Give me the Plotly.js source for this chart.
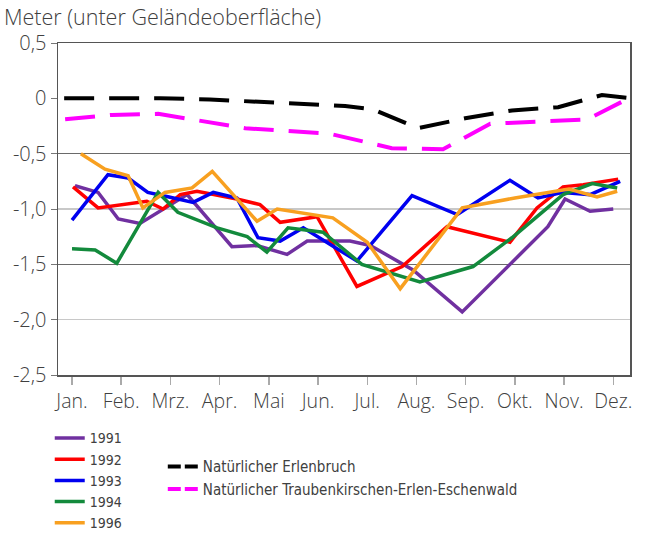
<!DOCTYPE html>
<html><head><meta charset="utf-8">
<script src="https://cdn.plot.ly/plotly-3.0.1.min.js"></script>
<style>html,body{margin:0;padding:0;background:#fff}</style>
</head><body><div id="chart" style="width:646px;height:534px"></div>
<script>
const months = ["Jan.","Feb.","Mrz.","Apr.","Mai","Jun.","Jul.","Aug.","Sep.","Okt.","Nov.","Dez."];
const monthPos = [0,1,2,3,4,5,6,7,8,9,10,11];
const yTickVals = [0.5,0,-0.5,-1,-1.5,-2,-2.5];
const yTickText = ["0,5","0","-0,5","-1,0","-1,5","-2,0","-2,5"];

const x1991 = [0.06,0.53,0.94,1.38,2.34,3.25,3.76,4.37,4.78,5.65,6.06,6.93,7.93,8.76,9.67,10.02,10.53,11.0];
const y1991 = [-0.79,-0.85,-1.09,-1.13,-0.87,-1.34,-1.33,-1.41,-1.29,-1.29,-1.33,-1.55,-1.93,-1.56,-1.16,-0.91,-1.02,-1.0];
const x1992 = [0.02,0.53,1.52,1.85,2.2,2.54,3.35,3.82,4.23,4.98,5.79,6.71,7.62,8.9,9.45,9.98,10.39,11.1];
const y1992 = [-0.80,-0.99,-0.93,-1.0,-0.87,-0.84,-0.91,-0.96,-1.12,-1.07,-1.70,-1.52,-1.16,-1.30,-0.99,-0.80,-0.78,-0.73];
const x1993 = [0.0,0.73,1.14,1.54,1.95,2.46,2.87,3.35,3.78,4.23,4.70,5.79,6.91,7.83,8.9,9.47,9.98,10.53,11.14];
const y1993 = [-1.10,-0.69,-0.72,-0.85,-0.89,-0.94,-0.85,-0.90,-1.26,-1.29,-1.17,-1.47,-0.88,-1.05,-0.74,-0.90,-0.85,-0.87,-0.75];
const x1994 = [0,0.47,0.91,1.75,2.15,2.95,3.56,3.96,4.39,5.1,5.89,7.07,8.15,8.94,9.98,10.57,11.08];
const y1994 = [-1.36,-1.37,-1.49,-0.85,-1.03,-1.17,-1.25,-1.39,-1.17,-1.21,-1.50,-1.66,-1.52,-1.26,-0.87,-0.77,-0.81];
const x1996 = [0.18,0.67,1.14,1.44,1.89,2.44,2.85,3.76,4.17,5.3,6.0,6.67,7.93,9.0,10.1,10.67,11.08];
const y1996 = [-0.50,-0.64,-0.70,-0.99,-0.85,-0.81,-0.66,-1.11,-1.00,-1.08,-1.30,-1.72,-0.99,-0.90,-0.82,-0.89,-0.84];
const xErlen = [-0.16,1.79,2.8,3.72,4.63,5.55,6.12,7.03,7.99,8.94,9.88,10.77,11.36];
const yErlen = [0.0,0.0,-0.01,-0.03,-0.05,-0.07,-0.10,-0.27,-0.18,-0.11,-0.08,0.03,0.0];
const xTraub = [-0.14,0.81,1.75,3.52,5.24,6.5,7.54,8.5,10.47,11.36];
const yTraub = [-0.19,-0.15,-0.14,-0.27,-0.32,-0.45,-0.46,-0.23,-0.19,0.01];

const years = [
  {name:"1991", x:x1991, y:y1991, color:"#7030A0"},
  {name:"1992", x:x1992, y:y1992, color:"#FF0000"},
  {name:"1993", x:x1993, y:y1993, color:"#0000F0"},
  {name:"1994", x:x1994, y:y1994, color:"#138A3C"},
  {name:"1996", x:x1996, y:y1996, color:"#F8A020"}
];
const traces = years.map(s => ({
  type:"scatter", mode:"lines", name:s.name, x:s.x, y:s.y,
  line:{color:s.color, width:3.5}, legend:"legend"
}));
const dashed = [
  {name:"Natürlicher Erlenbruch", x:xErlen, y:yErlen, color:"#000000"},
  {name:"Natürlicher Traubenkirschen-Erlen-Eschenwald", x:xTraub, y:yTraub, color:"#FF00FF"}
];
dashed.forEach(s => {
  traces.push({type:"scatter", mode:"lines", name:s.name, x:s.x, y:s.y,
    line:{color:s.color, width:4, dash:"30px,15px"}, showlegend:false});
});
dashed.forEach(s => {
  traces.push({type:"scatter", mode:"lines", name:s.name, x:[null], y:[null],
    line:{color:s.color, width:4, dash:"13px,4px"}, legend:"legend2"});
});
traces.push({type:"scatter", mode:"lines", x:[null], y:[null], yaxis:"y2", showlegend:false, hoverinfo:"skip"});

const fontFam = "'Open Sans', sans-serif";
const legFam = "'DejaVu Sans Condensed', 'Liberation Sans Narrow', sans-serif";
const layout = {
  width:646, height:534,
  margin:{l:58, r:16, t:43, b:159, autoexpand:false},
  paper_bgcolor:"#fff", plot_bgcolor:"#fff",
  font:{family:fontFam, color:"#404040", size:20},
  title:{text:"Meter (unter Geländeoberfläche)", xref:"container", yref:"container",
    x:0.006, xanchor:"left", y:0.967, yanchor:"middle", font:{family:fontFam, size:21.5, color:"#404040", weight:300}},
  xaxis:{range:[-0.285,11.34], tickvals:monthPos, ticktext:months, ticks:"outside", ticklen:8,
    tickcolor:"#aaaaaa", tickwidth:1.5, showgrid:false, zeroline:false, showline:true, linecolor:"#555555",
    linewidth:1.5, mirror:true, tickfont:{size:19.5, weight:300}},
  yaxis:{range:[-2.5,0.5], tickvals:yTickVals, ticktext:yTickText, ticks:"outside", ticklen:6,
    tickcolor:"#777777", showgrid:false, zeroline:false, showline:true, linecolor:"#555555",
    linewidth:1.5, mirror:true, tickfont:{size:20, weight:300},
    minor:{tickvals:[-1,-2], showgrid:true, gridcolor:"#c8c8c8", gridwidth:1.2, ticks:""}},
  yaxis2:{overlaying:"y", matches:"y", range:[-2.5,0.5], tickvals:[-0.5,-1.5], showticklabels:false,
    showgrid:true, gridcolor:"#6a6a6a", gridwidth:1.2, zeroline:false, showline:false, ticks:""},
  legend:{xref:"container", yref:"container", x:0.077, xanchor:"left", y:0.209, yanchor:"top", tracegroupgap:0,
    font:{family:legFam, size:14, color:"#404040"}, bgcolor:"rgba(0,0,0,0)"},
  legend2:{xref:"container", yref:"container", x:0.252, xanchor:"left", y:0.157, yanchor:"top",
    font:{family:legFam, size:15, color:"#404040"}, bgcolor:"rgba(0,0,0,0)"},
  showlegend:true
};
Plotly.newPlot("chart", traces, layout, {displayModeBar:false, staticPlot:true});
</script></body></html>
